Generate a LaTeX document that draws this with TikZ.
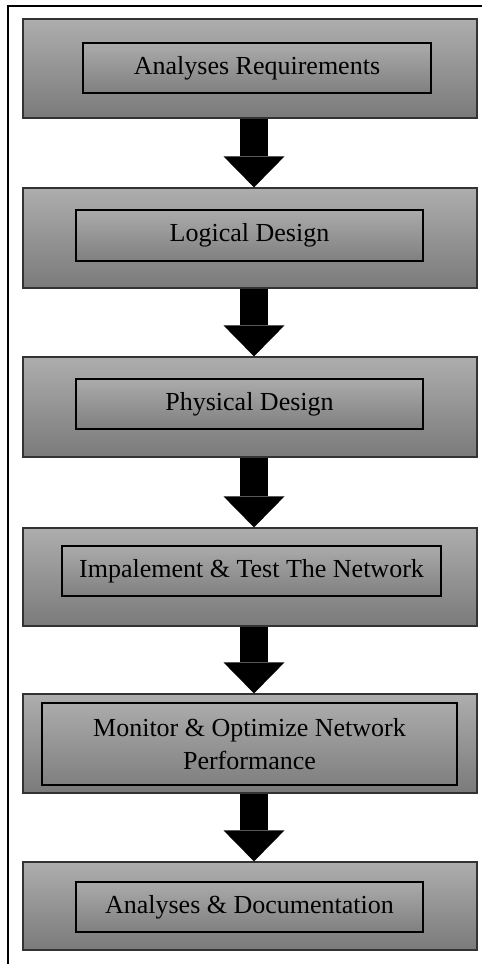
\documentclass[tikz,border=0pt]{standalone}
\usepackage{fontspec}
\setmainfont{Liberation Serif}
\usetikzlibrary{arrows.meta}
\tikzset{
 outerbox/.style={draw=black!80, line width=1.2pt, top color=black!32, bottom color=black!52, minimum width=454pt, inner sep=0pt},
 innerbox/.style={draw=black, line width=1.5pt, top color=black!33, bottom color=black!50, inner sep=0pt, align=center, font=\fontsize{26}{33}\selectfont},
 flowarrow/.style={line width=28pt, -{Triangle[width=61pt,length=31pt,line width=0pt]}}
}
\begin{document}
\begin{tikzpicture}[x=1pt,y=-1pt]
\useasboundingbox (0,0) rectangle (482,964);
\fill[white] (0,0) rectangle (482,964);
\draw[line width=2.5pt] (8,964) -- (8,6) -- (482,6);

\node[outerbox, minimum height=99pt] (req) at (250,68.5) {};
\node[outerbox, minimum height=100pt] (log) at (250,238) {};
\node[outerbox, minimum height=100pt] (phy) at (250,407) {};
\node[outerbox, minimum height=98pt] (imp) at (250,577) {};
\node[outerbox, minimum height=99pt] (mon) at (250,743.5) {};
\node[outerbox, minimum height=88pt] (doc) at (250,906) {};

\node[innerbox, minimum width=348pt, minimum height=50pt] (reqtxt) at (257,68) {Analyses Requirements};
\node[innerbox, minimum width=347pt, minimum height=51pt] (logtxt) at (249.5,235.5) {Logical Design};
\node[innerbox, minimum width=347pt, minimum height=50pt] (phytxt) at (249.5,404) {Physical Design};
\node[innerbox, minimum width=379pt, minimum height=50pt] (imptxt) at (251.5,571) {Impalement \& Test The Network};
\node[innerbox, minimum width=415pt, minimum height=82pt] (montxt) at (249.5,744) {Monitor \& Optimize Network\\Performance};
\node[innerbox, minimum width=347pt, minimum height=50pt] (doctxt) at (249.5,907) {Analyses \& Documentation};

\draw[flowarrow] ([xshift=4pt]req.south) -- ([xshift=4pt]log.north);
\draw[flowarrow] ([xshift=4pt]log.south) -- ([xshift=4pt]phy.north);
\draw[flowarrow] ([xshift=4pt]phy.south) -- ([xshift=4pt]imp.north);
\draw[flowarrow] ([xshift=4pt]imp.south) -- ([xshift=4pt]mon.north);
\draw[flowarrow] ([xshift=4pt]mon.south) -- ([xshift=4pt]doc.north);
\end{tikzpicture}
\end{document}
